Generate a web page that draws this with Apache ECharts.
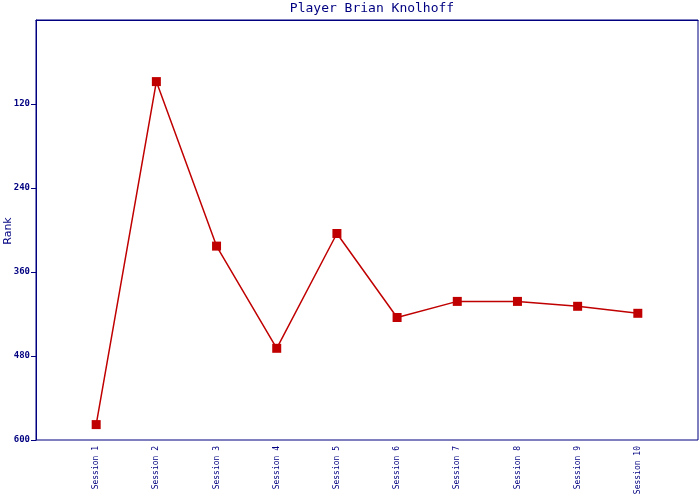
<!DOCTYPE html>
<html><head><meta charset="utf-8">
<script src="https://cdn.jsdelivr.net/npm/echarts@6/dist/echarts.min.js"></script>
<style>html,body{margin:0;padding:0;background:#fff}#c{width:700px;height:500px}</style>
</head><body><div id="c"></div>
<script>
const sessions = ['Session 1','Session 2','Session 3','Session 4','Session 5','Session 6','Session 7','Session 8','Session 9','Session 10'];
const ranks = [578, 88, 323, 469, 305, 425, 402, 402, 409, 419];
const yTicks = [0, 120, 240, 360, 480, 600];
const yName = 'Rank';

const navy = '#000080';
const cats = [''].concat(sessions, ['']);
const data = [null].concat(ranks, [null]);
const chart = echarts.init(document.getElementById('c'), null, {renderer:'canvas'});
chart.setOption({
  animation: false,
  title: {text: 'Player Brian Knolhoff', left: 367, textAlign: 'center', top: -3,
    textStyle: {fontFamily: 'DejaVu Sans Mono', fontSize: 13, fontWeight: 'normal', color: navy}},
  grid: {left: 36, right: 2, top: 20, bottom: 60, containLabel: false, outerBoundsMode: 'none',
    show: true, borderColor: navy, borderWidth: 1, backgroundColor: '#fff'},
  graphic: [{type: 'text', x: 8, y: 231, rotation: Math.PI / 2,
    style: {text: yName, fill: navy, font: '11px "DejaVu Sans"', align: 'center', verticalAlign: 'middle'}}],
  xAxis: {type: 'category', data: cats, boundaryGap: false,
    axisLine: {show: true, lineStyle: {color: navy, width: 1}},
    axisTick: {show: false}, splitLine: {show: false},
    axisLabel: {rotate: 90, margin: 6, interval: 0, color: navy, fontFamily: 'DejaVu Sans Mono', fontSize: 8}},
  yAxis: {type: 'value', inverse: true, min: yTicks[0], max: yTicks[yTicks.length-1], interval: 120,
    axisLine: {show: true, lineStyle: {color: navy, width: 1}},
    axisTick: {show: true, length: 5, lineStyle: {color: navy, width: 1}},
    splitLine: {show: false},
    axisLabel: {showMinLabel: false, margin: 6, color: navy, fontFamily: 'DejaVu Sans Mono', fontWeight: 'bold', fontSize: 9}},
  series: [{type: 'line', data: data, symbol: 'rect', symbolSize: 9, connectNulls: false,
    lineStyle: {color: '#C00000', width: 1.5}, itemStyle: {color: '#C00000'}}]
});
</script></body></html>
